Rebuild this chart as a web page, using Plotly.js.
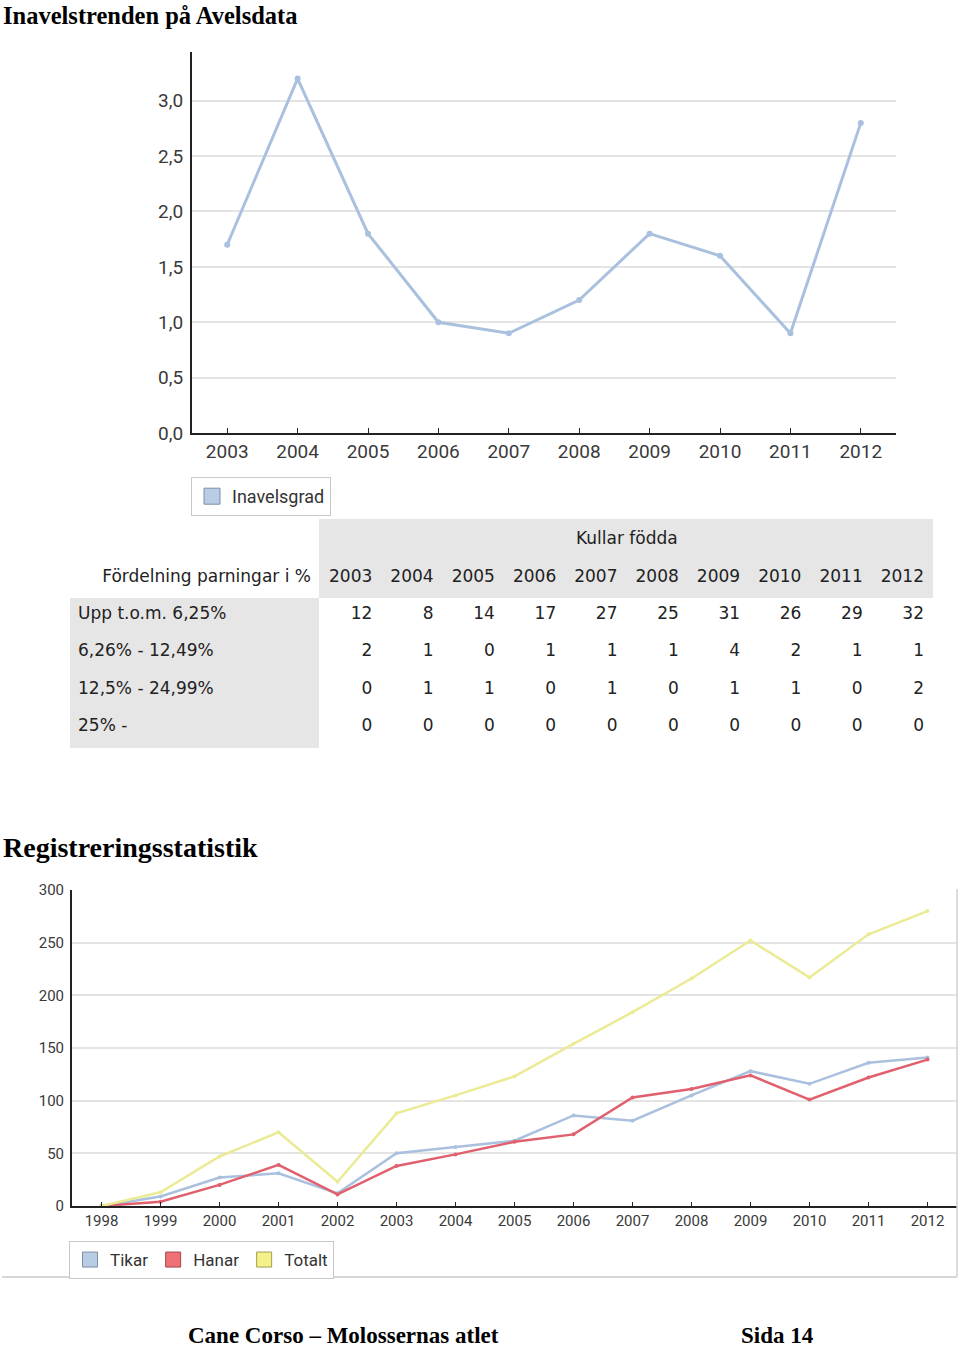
<!DOCTYPE html>
<html>
<head>
<meta charset="utf-8">
<script src="https://cdn.plot.ly/plotly-3.0.1.min.js"></script>
<style>
html,body{margin:0;padding:0;background:#fff;}
#chart{width:960px;height:1349px;}
</style>
</head>
<body>
<div id="chart"></div>
<script>
// ---- Data ----
const inbreedYears = ["2003","2004","2005","2006","2007","2008","2009","2010","2011","2012"];
const inbreedValues = [1.7, 3.2, 1.8, 1.0, 0.9, 1.2, 1.8, 1.6, 0.9, 2.8];

const tableYears = ["2003","2004","2005","2006","2007","2008","2009","2010","2011","2012"];
const tableRowLabels = ["Upp t.o.m. 6,25%", "6,26% - 12,49%", "12,5% - 24,99%", "25% -"];
const rowUpTo625 = [12, 8, 14, 17, 27, 25, 31, 26, 29, 32];
const row626to1249 = [2, 1, 0, 1, 1, 1, 4, 2, 1, 1];
const row125to2499 = [0, 1, 1, 0, 1, 0, 1, 1, 0, 2];
const row25plus = [0, 0, 0, 0, 0, 0, 0, 0, 0, 0];
const tableHeaderLabel = "Fördelning parningar i %";
const tableGroupLabel = "Kullar födda";

const regYears = ["1998","1999","2000","2001","2002","2003","2004","2005","2006","2007","2008","2009","2010","2011","2012"];
const tikar  = [0, 9, 27, 31, 12, 50, 56, 62, 86, 81, 105, 128, 116, 136, 141];
const hanar  = [0, 4, 20, 39, 11, 38, 49, 61, 68, 103, 111, 124, 101, 122, 139];
const totalt = [0, 13, 47, 70, 23, 88, 105, 123, 154, 184, 216, 252, 217, 258, 280];

// ---- helpers (pixel -> paper) ----
const W = 960, H = 1349;
const px = v => v / W;
const py = v => 1 - v / H;

const GRAY = '#e6e6e6';
const WHITE = '#ffffff';
const tickFontTop = {family: 'Roboto, sans-serif', size: 19, color: '#3a3a3a'};
const tickFontBot = {family: 'Roboto, sans-serif', size: 15, color: '#3a3a3a'};
const tableFont = {family: 'DejaVu Sans', size: 17, color: '#222'};

// ---- Table ----
const rows = [rowUpTo625, row626to1249, row125to2499, row25plus];
const cellValues = [[tableHeaderLabel].concat(tableRowLabels)];
const fillCols = [[WHITE, GRAY, GRAY, GRAY, GRAY]];
const alignCols = [['right', 'left', 'left', 'left', 'left']];
tableYears.forEach((y, i) => {
  cellValues.push([y].concat(rows.map(r => String(r[i]))));
  fillCols.push([GRAY, WHITE, WHITE, WHITE, WHITE]);
  alignCols.push(['right', 'right', 'right', 'right', 'right']);
});
const headerVals = [''].concat(tableYears.map(() => ''));
const headerFill = [WHITE].concat(tableYears.map(() => GRAY));

const tableTrace = {
  type: 'table',
  domain: {x: [px(70), px(932)], y: [py(748), py(519)]},
  columnwidth: [249].concat(tableYears.map(() => 61.3)),
  header: {
    values: headerVals,
    height: 42,
    fill: {color: headerFill},
    line: {width: 1, color: headerFill},
    font: tableFont
  },
  cells: {
    values: cellValues,
    height: 37.3,
    align: alignCols,
    fill: {color: fillCols},
    line: {width: 1, color: fillCols},
    font: tableFont
  }
};

// ---- Traces ----
const inbreedTrace = {
  type: 'scatter', mode: 'lines+markers',
  x: inbreedYears, y: inbreedValues,
  xaxis: 'x', yaxis: 'y',
  line: {color: '#a9c0de', width: 3},
  marker: {color: '#a9c0de', size: 6},
  showlegend: false, hoverinfo: 'skip'
};
const inbreedLegend = {
  type: 'scatter', mode: 'markers', x: [null], y: [null],
  xaxis: 'x', yaxis: 'y', name: 'Inavelsgrad', legend: 'legend',
  marker: {symbol: 'square', size: 16, color: '#b8cce4', line: {color: '#7d8ea8', width: 1}}
};

const regSeries = [
  {name: 'Tikar', y: tikar, line: '#a9c0de', sw: '#b8cce4', sb: '#7d8ea8', w: 2.5},
  {name: 'Hanar', y: hanar, line: '#e0606e', sw: '#f07078', sb: '#a0464e', w: 2.5},
  {name: 'Totalt', y: totalt, line: '#ebeb96', sw: '#f4f08a', sb: '#a0a050', w: 2.5}
];
const regTraces = [];
regSeries.forEach(s => {
  regTraces.push({
    type: 'scatter', mode: 'lines+markers', x: regYears, y: s.y,
    xaxis: 'x2', yaxis: 'y2', line: {color: s.line, width: s.w},
    marker: {color: s.line, size: 4}, showlegend: false, hoverinfo: 'skip'
  });
});
regSeries.forEach(s => {
  regTraces.push({
    type: 'scatter', mode: 'markers', x: [null], y: [null],
    xaxis: 'x2', yaxis: 'y2', name: s.name, legend: 'legend2',
    marker: {symbol: 'square', size: 15, color: s.sw, line: {color: s.sb, width: 1}}
  });
});

const serif = 'Liberation Serif, Times New Roman, serif';

const layout = {
  width: W, height: H,
  margin: {l: 0, r: 0, t: 0, b: 0},
  paper_bgcolor: '#ffffff', plot_bgcolor: '#ffffff',
  separators: ', ',
  showlegend: true,
  xaxis: {
    domain: [px(192), px(896)], anchor: 'y', type: 'category',
    range: [-0.5, 9.5], showgrid: false, zeroline: false,
    showline: true, linecolor: '#222', linewidth: 2,
    ticks: 'inside', ticklen: 5, tickcolor: '#222', tickwidth: 1,
    tickfont: tickFontTop, fixedrange: true
  },
  yaxis: {
    domain: [py(433), py(52)], anchor: 'x',
    range: [0, 3.44], dtick: 0.5, tick0: 0, tickformat: '.1f',
    showgrid: true, gridcolor: '#e4e4e4', gridwidth: 2, zeroline: false,
    showline: true, linecolor: '#222', linewidth: 2, ticks: '',
    ticklabelstandoff: 3,
    tickfont: tickFontTop, fixedrange: true
  },
  xaxis2: {
    domain: [px(72), px(957)], anchor: 'y2', type: 'category',
    range: [-0.5, 14.5], showgrid: false, zeroline: false,
    showline: true, linecolor: '#222', linewidth: 2,
    ticks: 'inside', ticklen: 4, tickcolor: '#222', tickwidth: 1,
    tickfont: tickFontBot, fixedrange: true
  },
  yaxis2: {
    domain: [py(1206), py(890)], anchor: 'x2',
    range: [0, 300], dtick: 50, tick0: 0,
    showgrid: true, gridcolor: '#e4e4e4', gridwidth: 2, zeroline: false,
    showline: true, linecolor: '#222', linewidth: 2, ticks: '',
    ticklabelstandoff: 3,
    tickfont: tickFontBot, fixedrange: true
  },
  legend: {
    x: px(191), y: py(477), xanchor: 'left', yanchor: 'top',
    bgcolor: '#ffffff', bordercolor: '#c8c8c8', borderwidth: 1,
    font: {family: 'Roboto, sans-serif', size: 18, color: '#333'},
    itemwidth: 30, tracegroupgap: 0
  },
  legend2: {
    x: px(69), y: py(1241), xanchor: 'left', yanchor: 'top',
    orientation: 'h',
    bgcolor: '#ffffff', bordercolor: '#c8c8c8', borderwidth: 1,
    font: {family: 'Roboto, sans-serif', size: 17, color: '#333'},
    itemwidth: 30
  },
  shapes: [
    {type: 'line', xref: 'paper', yref: 'paper', x0: px(2), x1: px(957), y0: py(1277), y1: py(1277),
     line: {color: '#c8c8c8', width: 1.5}},
    {type: 'line', xref: 'paper', yref: 'paper', x0: px(957), x1: px(957), y0: py(1277), y1: py(889),
     line: {color: '#d0d0d0', width: 1.5}}
  ],
  annotations: [
    {text: '<b>Inavelstrenden på Avelsdata</b>', xref: 'paper', yref: 'paper',
     x: px(1), y: py(0), xanchor: 'left', yanchor: 'top', showarrow: false,
     font: {family: serif, size: 24.5, color: '#000'}},
    {text: tableGroupLabel, xref: 'paper', yref: 'paper',
     x: px(627), y: py(538), xanchor: 'center', yanchor: 'middle', showarrow: false,
     font: tableFont},
    {text: '<b>Registreringsstatistik</b>', xref: 'paper', yref: 'paper',
     x: px(1), y: py(847), xanchor: 'left', yanchor: 'middle', showarrow: false,
     font: {family: serif, size: 28, color: '#000'}},
    {text: '<b>Cane Corso – Molossernas atlet</b>', xref: 'paper', yref: 'paper',
     x: px(186), y: py(1350), xanchor: 'left', yanchor: 'bottom', showarrow: false,
     font: {family: serif, size: 23, color: '#000'}},
    {text: '<b>Sida 14</b>', xref: 'paper', yref: 'paper',
     x: px(739), y: py(1350), xanchor: 'left', yanchor: 'bottom', showarrow: false,
     font: {family: serif, size: 23, color: '#000'}}
  ]
};

Plotly.newPlot('chart', [tableTrace, inbreedTrace, inbreedLegend].concat(regTraces), layout,
  {staticPlot: true, displayModeBar: false});
</script>
</body>
</html>
